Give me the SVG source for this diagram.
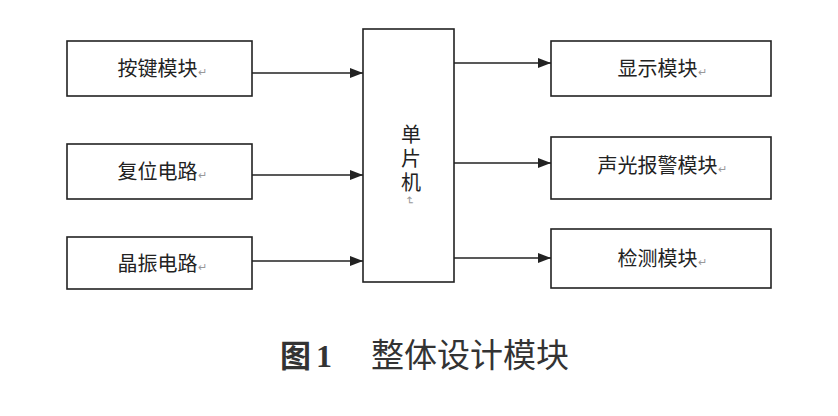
<svg xmlns="http://www.w3.org/2000/svg" width="838" height="416" viewBox="0 0 838 416">
<defs>
<marker id="ah" markerWidth="13" markerHeight="10" refX="13" refY="5" orient="auto" markerUnits="userSpaceOnUse">
<path d="M0,0 L13,5 L0,10 Z" fill="#222"/>
</marker>
<style>
.box{fill:#fff;stroke:#222;stroke-width:1.6}
.lbl{font-family:"Noto Sans CJK SC","Noto Sans",sans-serif;font-size:20px;fill:#222;text-anchor:middle}
.rm{fill:#999;font-size:11px}
.ln{stroke:#222;stroke-width:1.6;fill:none;marker-end:url(#ah)}
</style>
</defs>
<rect width="838" height="416" fill="#fff"/>
<g id="n_key"><rect class="box" x="67" y="41" width="185" height="55"/><text class="lbl" x="162" y="76">按键模块<tspan class="rm">↵</tspan></text></g>
<g id="n_reset"><rect class="box" x="67" y="144" width="185" height="55"/><text class="lbl" x="162" y="179">复位电路<tspan class="rm">↵</tspan></text></g>
<g id="n_osc"><rect class="box" x="67" y="237" width="185" height="52"/><text class="lbl" x="162" y="271">晶振电路<tspan class="rm">↵</tspan></text></g>
<g id="n_mcu"><rect class="box" x="363" y="29" width="91" height="253"/>
<text x="411" y="124" font-family="Noto Sans CJK SC,sans-serif" font-size="20" fill="#222" writing-mode="vertical-rl" letter-spacing="4">单片机<tspan fill="#999" font-size="11">↵</tspan></text></g>
<g id="n_disp"><rect class="box" x="551" y="41" width="220" height="55"/><text class="lbl" x="662" y="76">显示模块<tspan class="rm">↵</tspan></text></g>
<g id="n_alarm"><rect class="box" x="551" y="137" width="220" height="62"/><text class="lbl" x="662" y="173">声光报警模块<tspan class="rm">↵</tspan></text></g>
<g id="n_det"><rect class="box" x="551" y="229" width="220" height="59"/><text class="lbl" x="662" y="266">检测模块<tspan class="rm">↵</tspan></text></g>
<g id="connectors">
<line class="ln" x1="252" y1="73" x2="363" y2="73"/>
<line class="ln" x1="252" y1="175" x2="363" y2="175"/>
<line class="ln" x1="252" y1="261" x2="363" y2="261"/>
<line class="ln" x1="454" y1="63" x2="551" y2="63"/>
<line class="ln" x1="454" y1="163" x2="551" y2="163"/>
<line class="ln" x1="454" y1="258" x2="551" y2="258"/>
</g>
<text x="280" y="367" font-family="Noto Sans CJK SC,sans-serif" font-size="31" font-weight="bold" fill="#333">图<tspan dx="5" font-family="Liberation Serif,serif" font-size="32">1</tspan></text>
<text x="371" y="367" font-family="Noto Sans CJK SC,sans-serif" font-size="33" fill="#333">整体设计模块</text>
</svg>
